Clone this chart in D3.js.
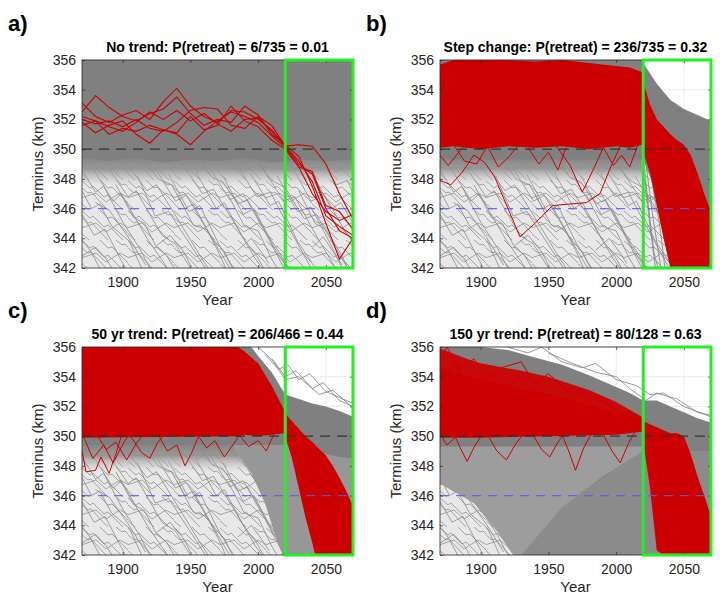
<!DOCTYPE html>
<html>
<head>
<meta charset="utf-8">
<script src="https://cdn.jsdelivr.net/npm/d3@7"></script>
<style>
  body { margin: 0; background: #fff; }
  text { font-family: Helvetica, Arial, "Liberation Sans", sans-serif; }
</style>
</head>
<body>
<svg id="chart" width="727" height="599"></svg>
<script>
////////////////////////////////////////////
// data (km)
////////////////////////////////////////////
var xTicks = [1900, 1950, 2000, 2050];
var yTicks = [342, 344, 346, 348, 350, 352, 354, 356];
var decades = [1870,1880,1890,1900,1910,1920,1930,1940,1950,1960,1970,1980,1990,2000,2010,2020,2030,2040,2050,2060,2070];
var letters = ["a)", "b)", "c)", "d)"];
var titles = [
  "No trend: P(retreat) = 6/735 = 0.01",
  "Step change: P(retreat) = 236/735 = 0.32",
  "50 yr trend: P(retreat) = 206/466 = 0.44",
  "150 yr trend: P(retreat) = 80/128 = 0.63"
];
var threshold = 350, retreatLine = 346, windowStart = 2020, windowEnd = 2070;

// sparse retreating trajectories under the dense band, [year, km]
var retreatPaths = [
  [[1870,348.6],[1880,347.1],[1886,347.5],[1900,345.1],[1912,343.4],[1920,342]],
  [[1876,349.0],[1893,346.5],[1899,347.0],[1918,344.0],[1933,342]],
  [[1889,348.8],[1904,346.8],[1910,347.2],[1929,344.2],[1939,343.6],[1950,342]],
  [[1903,349.0],[1918,347.2],[1925,347.6],[1944,344.8],[1958,342.7],[1963,342]],
  [[1924,348.7],[1939,346.5],[1947,346.9],[1964,344.3],[1979,342]],
  [[1944,349.0],[1959,347.0],[1967,347.3],[1984,344.8],[1998,342.6],[2003,342]],
  [[1964,348.8],[1979,346.6],[1989,347.0],[2004,344.6],[2019,342]],
  [[1984,349.0],[1999,346.8],[2009,347.1],[2024,344.5],[2039,342]],
  [[2004,348.6],[2019,346.5],[2027,346.8],[2044,344.0],[2057,342]],
  [[2024,349.0],[2039,346.5],[2049,346.9],[2064,344.5],[2070,343.8]],
  [[1870,345.6],[1879,344.2],[1887,344.6],[1899,342.5],[1902,342]],
  [[1870,343.9],[1876,343.2],[1883,342]],
  [[1911,348.2],[1924,345.5],[1934,345.8],[1954,343.0],[1961,342]],
  [[1934,348.3],[1949,345.8],[1957,346.2],[1971,343.6],[1979,342.4],[1982,342]],
  [[1954,348.5],[1969,346.0],[1975,346.4],[1989,344.0],[1999,342.8],[2004,342]],
  [[1974,348.2],[1989,345.6],[1997,346.0],[2011,343.5],[2020,342.2]],
  [[1994,348.4],[2009,346.2],[2015,346.5],[2029,343.8],[2040,342.3]],
  [[2014,348.2],[2029,345.8],[2039,346.1],[2054,343.5],[2062,342]],
  [[2039,348.5],[2054,346.0],[2061,346.4],[2070,345.0]],
  [[1880,346.4],[1890,345.9],[1904,344.1],[1917,342.2]],
  [[1870,347.2],[1877,346.0],[1883,346.3],[1892,344.8],[1905,343.8],[1914,342]],
  [[1895,347.6],[1908,345.4],[1916,345.0],[1925,343.4],[1932,342.9],[1938,342]],
  [[1918,349.1],[1926,348.0],[1936,347.6],[1946,346.0],[1952,346.3],[1966,344.0],[1975,343.1],[1981,342]],
  [[1940,347.0],[1952,344.9],[1962,344.6],[1970,343.2],[1976,342]],
  [[1958,349.2],[1966,348.1],[1974,347.8],[1985,346.3],[1992,346.6],[2008,344.1],[2016,343.0],[2022,342]],
  [[1978,346.9],[1990,344.8],[2000,344.5],[2010,342.6],[2014,342]],
  [[2000,349.3],[2008,348.0],[2020,347.4],[2034,345.3],[2043,345.6],[2058,343.2],[2066,342]],
  [[2030,347.2],[2042,345.0],[2050,344.6],[2062,342.8],[2066,342]],
  [[2048,349.0],[2058,347.6],[2066,347.9],[2070,347.0]],
  [[1870,342.8],[1880,343.4],[1888,342.6],[1892,342]],
  [[1925,343.5],[1935,344.2],[1945,343.1],[1950,342.2]],
  [[1985,343.2],[1995,344.0],[2003,343.0],[2008,342.3]],
  [[2040,343.4],[2048,344.1],[2056,343.0],[2062,342.2]]
];

// ---- a) no trend: [year, low km, high km] envelopes
var aMesh   = [[1870,342,348.8],[2070,342,348.8]];
var aFringe = [[1870,347.6,349.6],[1950,347.5,349.6],[2070,347.6,349.6]];
var aGray   = [[1870,349.4,356],[1890,349.2,356],[1910,349.4,356],[1930,349.1,356],[1950,349.3,356],
               [1970,349.2,356],[1990,349.4,356],[2010,349.1,356],[2030,349.3,356],[2050,349.2,356],[2070,349.3,356]];
var aRed = [
  [353.1,352.2,351.8,352.3,352.6,352.0,353.2,354.1,352.9,352.2,351.8,352.6,352.5,352.0,351.3,350.2,349.0,348.3,346.0,344.5,344.0],
  [352.5,353.6,352.8,352.2,351.9,352.4,352.7,353.5,352.4,351.6,352.0,351.8,352.9,352.3,351.0,350.3,349.5,347.5,345.0,342.6,344.0],
  [352.0,351.7,351.9,351.5,352.0,351.4,351.2,351.8,352.6,352.8,352.7,351.6,351.4,352.2,351.6,350.2,350.3,350.2,349.0,347.0,345.3],
  [351.8,351.1,351.6,351.9,351.0,350.4,351.3,351.0,350.3,351.2,351.9,352.5,352.2,351.8,350.9,350.1,348.8,348.5,346.2,345.8,344.6],
  [351.6,351.9,351.5,351.2,351.8,352.5,352.0,352.6,351.9,352.4,351.7,351.2,352.0,352.1,351.2,350.2,349.2,347.8,345.5,344.8,344.2],
  [352.2,351.9,351.0,351.4,351.2,351.6,351.3,351.1,352.2,351.3,351.6,352.9,351.9,351.5,350.6,350.0,348.8,347.0,345.8,345.2,345.6]
];

// ---- b) step change
var bMesh   = [[1870,342,348.8],[2070,342,348.8]];
var bFringe = [[1870,347.6,349.6],[2019,347.6,349.6]];
var bGray   = [[1870,349.3,356],[2019,349.3,356],[2020,349.3,355.8],[2030,347.0,354.4],[2040,346.5,353.3],
               [2050,346.2,352.7],[2060,346.0,352.3],[2070,345.8,351.9]];
var bGrayPaths = [
  [[2020,349.5],[2024,346.0],[2028,343.0],[2031,342]],
  [[2022,349.0],[2027,345.5],[2033,342]],
  [[2021,348.0],[2025,344.8],[2029,342]],
  [[2024,349.2],[2029,346.4],[2032,345.0],[2036,342]]
];
var bRedBand = [[1870,350.1,355.7],[1880,350.2,356],[1900,350.0,356],[1920,350.2,356],[1940,350.1,355.9],
                [1960,350.2,356],[1980,350.0,355.8],[2000,350.2,355.6],[2010,350.1,355.5],[2019,350.3,355.2]];
var bRedBox  = [[2020,349.8,354.5],[2025,348.4,353.0],[2030,346.2,352.0],[2035,344.0,351.5],[2040,342,351.0],
                [2045,342,350.6],[2050,342,350.3],[2055,342,349.6],[2060,342,348.4],[2065,342,347.0],[2070,342,345.8]];
var bRedPaths = [
  [[1870,347.9],[1878,347.6],[1886,348.4],[1895,349.6],[1903,349.1],[1910,348.2],[1929,344.1],[1940,345.0],
   [1953,346.2],[1965,346.3],[1978,346.4],[1988,347.0],[1996,348.8],[2004,350.4]],
  [[1955,350.3],[1966,348.9],[1975,347.1],[1983,348.6],[1991,350.2]],
  [[1905,350.2],[1913,348.8],[1921,349.5],[1928,350.3]],
  [[1935,350.1],[1943,349.0],[1950,349.8],[1957,348.6],[1963,350.1]],
  [[1870,349.6],[1876,348.9],[1884,349.8],[1890,350.4]],
  [[1990,350.2],[1998,348.9],[2004,349.6],[2010,348.8],[2016,350.3]],
  [[1880,350.3],[1888,349.2],[1897,349.0],[1905,350.2]]
];

// ---- c) 50 yr trend
var cMesh   = [[1870,342,348.8],[2070,342,348.8]];
var cFringe = [[1870,347.6,349.6],[2020,347.6,349.6]];
var cDense  = [[1982,349.2,349.6],[1995,347.5,349.6],[2005,345.5,349.6],[2012,343.5,349.6],[2018,342,349.6],[2070,342,349.6]];
var cGray   = [[1870,349.4,356],[1995,349.4,356],[2000,349.4,355.4],[2010,349.4,354.3],[2020,349.4,352.8],
               [2030,349.2,352.5],[2040,349.0,352.2],[2050,348.8,352.0],[2060,348.6,351.7],[2070,348.5,351.3]];
var cGrayPaths = [
  [[2005,355.5],[2015,354.5],[2022,354.8],[2030,353.8],[2038,354.2],[2050,353.0],[2060,352.6],[2070,352.2]],
  [[2000,356.0],[2012,355.0],[2020,354.0],[2028,354.4],[2040,353.2],[2048,353.6],[2060,352.4],[2070,352.0]],
  [[2010,355.2],[2020,353.8],[2030,354.0],[2045,352.8],[2055,353.1],[2070,351.9]]
];
var cRedBand = [[1870,349.9,356],[1985,350.0,356],[1990,350.1,355.7],[2000,350.0,354.9],[2010,350.1,353.4],[2019,350.2,351.8]];
var cRedBox  = [[2019,350.2,351.8],[2020,350.0,351.5],[2025,348.5,351.0],[2030,346.5,350.5],[2035,344.5,350.0],
                [2040,342.8,349.6],[2042,342,349.4],[2050,342,348.7],[2055,342,348.0],[2060,342,347.2],
                [2065,342,346.3],[2070,342,345.3]];
var cRedPaths = [
  [[1870,349.0],[1873,347.6],[1880,347.7],[1884,348.6],[1890,347.5],[1895,348.8],[1900,350.3]],
  [[1870,350.2],[1878,348.5],[1886,349.4],[1893,348.2],[1901,349.6],[1907,350.4]],
  [[1905,350.1],[1914,348.9],[1920,348.5],[1926,349.6],[1932,350.2]],
  [[1925,350.3],[1933,349.0],[1940,349.4],[1946,348.0],[1951,348.9],[1957,350.2]],
  [[1955,350.1],[1962,349.2],[1968,349.7],[1975,348.6],[1982,349.5],[1988,350.3]],
  [[1880,350.2],[1888,349.1],[1895,349.6],[1903,348.4],[1910,349.5],[1916,350.2]],
  [[1985,350.2],[1993,349.3],[2000,349.7],[2006,349.0],[2012,350.2]]
];

// ---- d) 150 yr trend
var dMesh  = [[1870,342,348.8],[2070,342,348.8]];
var dMid   = [[1870,346.8,349.4],[1895,345.5,349.4],[1912,343.6,349.4],[1924,342,349.4],[2070,342,349.4]];
var dDark  = [[1930,342,342],[1960,342,345.2],[1990,342,347.3],[2020,342,349.0],[2070,342,349.0]];
var dGray  = [[1870,349.3,356],[1900,349.3,356],[1920,349.3,355.8],[1940,349.3,355.3],[1960,349.3,354.8],
              [1980,349.3,354.1],[2000,349.3,353.3],[2010,349.3,352.9],[2020,349.3,352.4],[2030,349.3,352.4],
              [2040,349.2,352.0],[2050,349.0,351.6],[2060,349.0,351.2],[2070,349.0,350.9]];
var dGrayPaths = [
  [[1920,356],[1935,355.6],[1945,356],[1960,355.0],[1975,354.6],[1985,354.9],[2000,353.8],[2015,353.4],
   [2025,352.8],[2035,352.9],[2050,352.0],[2070,351.3]],
  [[1950,355.6],[1965,355.0],[1985,354.3],[2000,354.0],[2010,353.2],[2022,352.4],[2030,352.9],[2045,352.5],
   [2060,351.6],[2070,351.4]]
];
var dRedCore = [[1870,349.9,354.6],[1900,349.9,353.8],[1950,350.0,352.8],[2000,350.1,351.6],[2019,350.3,351.0]];
var dRedTop  = [[1870,354.0,355.9],[1890,353.7,355.2],[1900,353.2,354.9],[1930,352.6,354.4],[1950,352.2,354.0],
                [1980,351.5,353.1],[2000,351.0,352.3],[2019,350.6,351.3]];
var dRedBox  = [[2020,349.6,351.0],[2025,346.5,350.8],[2030,342.3,350.6],[2035,342,350.4],[2040,342,350.2],
                [2045,342,350.2],[2050,342,350.0],[2055,342,348.8],[2060,342,347.3],[2065,342,346.0],[2070,342,344.6]];
var dRedPaths = [
  [[1880,350.2],[1885,349.2],[1890,348.3],[1896,349.4],[1902,350.2]],
  [[1905,350.1],[1912,349.0],[1919,348.4],[1926,349.5],[1932,350.2]],
  [[1938,350.2],[1945,349.1],[1951,348.6],[1957,349.6],[1963,350.3]],
  [[1960,350.1],[1965,349.0],[1970,347.7],[1976,349.2],[1982,350.2]],
  [[1990,350.2],[1997,349.0],[2003,348.2],[2009,349.5],[2014,350.3]],
  [[1870,350.2],[1875,349.4],[1880,349.8],[1886,350.4]],
  [[1870,355.0],[1875,356.0],[1885,354.5],[1895,355.2],[1905,353.8],[1915,354.6],[1930,355.0],[1940,353.5],
   [1950,354.2],[1965,353.0],[1980,352.8],[1995,352.0],[2010,351.5],[2019,351.0]],
  [[1870,353.6],[1880,355.0],[1892,353.2],[1903,354.4],[1918,353.0],[1928,354.0],[1945,352.6],[1958,353.6],
   [1972,352.2],[1988,352.6],[2005,351.4],[2019,351.1]]
];

////////////////////////////////////////////
// svg chart
////////////////////////////////////////////
var GRAY = "#808080", RED = "#cc0000", INK = "#262626";
var svg = d3.select("svg#chart");
var width = 271, height = 208;

var x = d3.scaleLinear().domain([1870, 2070]).range([0, width]);
var y = d3.scaleLinear().domain([342, 356]).range([height, 0]);
var band = d3.area().x(d => x(d[0])).y0(d => y(d[1])).y1(d => y(d[2]));
var path = d3.line().x(d => x(d[0])).y(d => y(d[1]));
var decLine = d3.line().x((d, i) => x(decades[i])).y(d => y(d));

//texture for the tangle of thin gray runs + soft edge under the dense band
var defs = svg.append("defs");
var pat = defs.append("pattern").attr("id", "mesh")
  .attr("patternUnits", "userSpaceOnUse").attr("width", 46).attr("height", 30);
pat.append("rect").attr("width", 46).attr("height", 30).attr("fill", "#e8e8e8");
pat.append("path")
  .attr("d", "M-1,0 L8,8 L11,6 L22,17 L26,15 L41,30" +
             " M18,0 L26,8 L30,7 L47,24 M-1,23 L7,30" +
             " M34,0 L40,5 L43,4 L47,8 M-1,7 L6,13 L9,12 L22,26 L26,30" +
             " M-1,18 L14,13 L24,22 L38,13 L47,18")
  .attr("fill", "none").attr("stroke", "#8c8c8c").attr("stroke-width", 0.75);
var grad = defs.append("linearGradient").attr("id", "fringe")
  .attr("x1", 0).attr("y1", 0).attr("x2", 0).attr("y2", 1);
grad.append("stop").attr("offset", "0%").attr("stop-color", "#808080").attr("stop-opacity", 1);
grad.append("stop").attr("offset", "45%").attr("stop-color", "#8e8e8e").attr("stop-opacity", 0.9);
grad.append("stop").attr("offset", "100%").attr("stop-color", "#c0c0c0").attr("stop-opacity", 0);

var panels = [
  {left: 82,  top: 60,  mesh: aMesh, fills: [[aFringe, "url(#fringe)"], [aGray, GRAY]],
   grayPaths: [], reds: [], redPaths: [], redDecades: aRed},
  {left: 440, top: 60,  mesh: bMesh, fills: [[bFringe, "url(#fringe)"], [bGray, GRAY]],
   grayPaths: bGrayPaths, reds: [[bRedBand, 1], [bRedBox, 1]], redPaths: bRedPaths, redDecades: []},
  {left: 82,  top: 347, mesh: cMesh, fills: [[cFringe, "url(#fringe)"], [cDense, "#979797"], [cGray, GRAY]],
   grayPaths: cGrayPaths, reds: [[cRedBand, 1], [cRedBox, 1]], redPaths: cRedPaths, redDecades: []},
  {left: 440, top: 347, mesh: dMesh, fills: [[dMid, "#9d9d9d"], [dDark, "#8b8b8b"], [dGray, GRAY]],
   grayPaths: dGrayPaths, reds: [[dRedCore, 1], [dRedTop, 0.93], [dRedBox, 1]], redPaths: dRedPaths, redDecades: []}
];

panels.forEach(function (p, i) {
  var g = svg.append("g").attr("transform", `translate(${p.left},${p.top})`);

  g.append("clipPath").attr("id", "clip" + i)
    .append("rect").attr("width", width).attr("height", height);

  //grid
  let grid = g.append("g");
  grid.selectAll("line.gx").data(xTicks).enter().append("line")
    .attr("x1", d => x(d)).attr("x2", d => x(d)).attr("y1", 0).attr("y2", height)
    .attr("stroke", "#e2e2e2").attr("stroke-width", 0.7);
  grid.selectAll("line.gy").data(yTicks).enter().append("line")
    .attr("x1", 0).attr("x2", width).attr("y1", d => y(d)).attr("y2", d => y(d))
    .attr("stroke", "#e2e2e2").attr("stroke-width", 0.7);

  let data = g.append("g").attr("clip-path", `url(#clip${i})`);

  // mesh texture first, then the thin gray trajectories, then denser envelopes
  data.append("path").attr("d", band(p.mesh)).attr("fill", "url(#mesh)");
  data.append("g").selectAll("path").data(retreatPaths).enter().append("path")
    .attr("d", path).attr("fill", "none").attr("stroke", "#8a8a8a").attr("stroke-width", 0.8);
  p.fills.forEach(function (f) {
    data.append("path").attr("d", band(f[0])).attr("fill", f[1]);
  });
  data.append("g").selectAll("path").data(p.grayPaths).enter().append("path")
    .attr("d", path).attr("fill", "none").attr("stroke", GRAY).attr("stroke-width", 0.8);

  //red runs that retreat inside the window
  data.append("g").selectAll("path").data(p.reds).enter().append("path")
    .attr("d", d => band(d[0])).attr("fill", RED).attr("opacity", d => d[1]);
  data.append("g").selectAll("path").data(p.redPaths).enter().append("path")
    .attr("d", path).attr("fill", "none").attr("stroke", RED).attr("stroke-width", 1);
  data.append("g").selectAll("path").data(p.redDecades).enter().append("path")
    .attr("d", decLine).attr("fill", "none").attr("stroke", RED).attr("stroke-width", 1.1);

  //reference lines
  g.append("line")
    .attr("x1", 0).attr("x2", width).attr("y1", y(threshold)).attr("y2", y(threshold))
    .attr("stroke", "#333").attr("stroke-width", 1.1).attr("stroke-dasharray", "10,7");
  g.append("line")
    .attr("x1", 0).attr("x2", width).attr("y1", y(retreatLine)).attr("y2", y(retreatLine))
    .attr("stroke", "#5a5af2").attr("stroke-width", 1.2).attr("opacity", 0.85)
    .attr("stroke-dasharray", "9,7");

  //axes
  g.append("g").attr("transform", `translate(0,${height})`)
    .call(d3.axisBottom(x).tickValues(xTicks).tickFormat(d3.format("d"))
      .tickSizeInner(-3).tickSizeOuter(0).tickPadding(9));
  g.append("g")
    .call(d3.axisLeft(y).tickValues(yTicks).tickFormat(d3.format("d"))
      .tickSizeInner(-3).tickSizeOuter(0).tickPadding(6));
  g.append("g")
    .call(d3.axisTop(x).tickValues(xTicks).tickFormat("").tickSizeInner(-3).tickSizeOuter(0));
  g.append("g").attr("transform", `translate(${width},0)`)
    .call(d3.axisRight(y).tickValues(yTicks).tickFormat("").tickSizeInner(-3).tickSizeOuter(0));
  g.selectAll(".domain").remove();
  g.selectAll(".tick line").attr("stroke", INK).attr("stroke-width", 0.7);
  g.selectAll(".tick text").attr("fill", INK).attr("font-size", "14px")
    .attr("font-family", "Helvetica, Arial, 'Liberation Sans', sans-serif");
  g.append("rect").attr("width", width).attr("height", height)
    .attr("fill", "none").attr("stroke", INK).attr("stroke-width", 0.8);

  //prediction window
  g.append("rect")
    .attr("x", x(windowStart)).attr("y", 0)
    .attr("width", x(windowEnd) - x(windowStart)).attr("height", height)
    .attr("fill", "none").attr("stroke", "#22f022").attr("stroke-width", 3);

  //labels
  g.append("text")
    .attr("x", width / 2).attr("y", -8)
    .attr("text-anchor", "middle").attr("font-size", "14px").attr("font-weight", "bold")
    .attr("fill", "#000").text(titles[i]);
  g.append("text")
    .attr("x", width / 2).attr("y", height + 37)
    .attr("text-anchor", "middle").attr("font-size", "15px")
    .attr("fill", INK).text("Year");
  g.append("text")
    .attr("transform", "rotate(-90)")
    .attr("x", -height / 2).attr("y", -39)
    .attr("text-anchor", "middle").attr("font-size", "15px")
    .attr("fill", INK).text("Terminus (km)");
  svg.append("text")
    .attr("x", p.left - 74).attr("y", p.top - 29)
    .attr("font-size", "22px").attr("font-weight", "bold")
    .attr("fill", "#000").text(letters[i]);
});
</script>
</body>
</html>
